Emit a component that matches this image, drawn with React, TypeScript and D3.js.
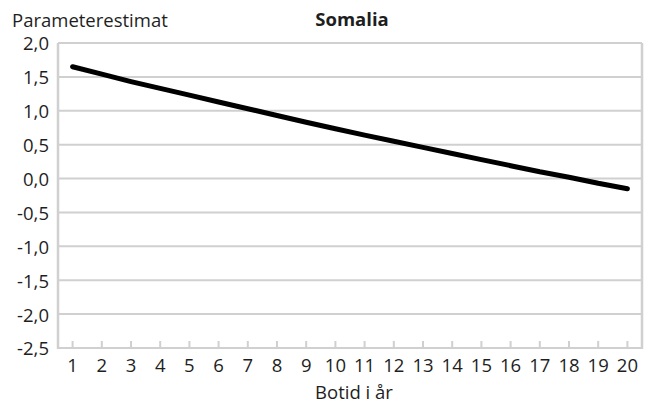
import React, { useRef, useEffect } from "react";
import * as d3 from "d3";

const years = d3.range(1, 21);
const estimates = [
  1.65, 1.54, 1.43, 1.33, 1.23, 1.13, 1.03, 0.93, 0.83, 0.735,
  0.64, 0.55, 0.46, 0.37, 0.28, 0.19, 0.1, 0.02, -0.07, -0.15,
];
const yTicks = [2.0, 1.5, 1.0, 0.5, 0.0, -0.5, -1.0, -1.5, -2.0, -2.5];

const title = "Somalia";
const yLabel = "Parameterestimat";
const xLabel = "Botid i år";

const App = () => {
  const ref = useRef<SVGSVGElement>(null);

  useEffect(() => {
    const svg = d3.select(ref.current);
    svg.selectAll("*").remove();

    const W = 648;
    const H = 405;
    const margin = { top: 43, right: 6, bottom: 57, left: 58 };
    const width = W - margin.left - margin.right;
    const height = H - margin.top - margin.bottom;
    const font = "'Open Sans', sans-serif";
    const fs = "18.5px";
    const grid = "#d0d0d0";
    const textColor = "#1e1e1e";

    svg.attr("width", W).attr("height", H);

    const g = svg
      .append("g")
      .attr("transform", `translate(${margin.left},${margin.top})`);

    const x = d3
      .scalePoint<number>()
      .domain(years)
      .range([0, width])
      .padding(0.5);

    const y = d3.scaleLinear().domain([-2.5, 2.0]).range([height, 0]);

    // gridlines
    g.selectAll(".grid")
      .data(yTicks)
      .enter()
      .append("line")
      .attr("x1", 0)
      .attr("x2", width)
      .attr("y1", (d) => y(d))
      .attr("y2", (d) => y(d))
      .attr("stroke", grid)
      .attr("stroke-width", 2);

    // left and right borders
    [0, width].forEach((px) => {
      g.append("line")
        .attr("x1", px)
        .attr("x2", px)
        .attr("y1", 0)
        .attr("y2", height + 1)
        .attr("stroke", grid)
        .attr("stroke-width", 2.5);
    });

    // y axis labels
    g.selectAll(".ylab")
      .data(yTicks)
      .enter()
      .append("text")
      .attr("x", -9)
      .attr("y", (d) => y(d))
      .attr("dy", "0.4em")
      .attr("text-anchor", "end")
      .style("font-family", font)
      .style("font-size", fs)
      .style("fill", textColor)
      .text((d) => d3.format(".1f")(d).replace(".", ",").replace("−", "-"));

    // x axis ticks
    g.selectAll(".xtick")
      .data(years)
      .enter()
      .append("line")
      .attr("x1", (d) => x(d)!)
      .attr("x2", (d) => x(d)!)
      .attr("y1", height)
      .attr("y2", height - 7)
      .attr("stroke", grid)
      .attr("stroke-width", 2);

    g.selectAll(".xlab")
      .data(years)
      .enter()
      .append("text")
      .attr("x", (d) => x(d)!)
      .attr("y", height + 24)
      .attr("text-anchor", "middle")
      .style("font-family", font)
      .style("font-size", fs)
      .style("fill", textColor)
      .text((d) => d);

    // line
    const line = d3
      .line<number>()
      .x((d, i) => x(years[i])!)
      .y((d) => y(d));

    g.append("path")
      .datum(estimates)
      .attr("d", line)
      .attr("fill", "none")
      .attr("stroke", "#000")
      .attr("stroke-width", 5)
      .attr("stroke-linecap", "round")
      .attr("stroke-linejoin", "round");

    // titles
    svg
      .append("text")
      .attr("x", margin.left + width / 2 + 2)
      .attr("y", 26)
      .attr("text-anchor", "middle")
      .style("font-family", font)
      .style("font-size", fs)
      .style("font-weight", "bold")
      .style("fill", textColor)
      .text(title);

    svg
      .append("text")
      .attr("x", 12)
      .attr("y", 27)
      .style("font-family", font)
      .style("font-size", fs)
      .style("fill", textColor)
      .text(yLabel);

    svg
      .append("text")
      .attr("x", margin.left + width / 2 + 4)
      .attr("y", 399)
      .attr("text-anchor", "middle")
      .style("font-family", font)
      .style("font-size", fs)
      .style("fill", textColor)
      .text(xLabel);
  }, []);

  return (
    <div style={{ position: "absolute", left: 0, top: 0 }}>
      <svg ref={ref} style={{ display: "block" }} />
    </div>
  );
};

export default App;
